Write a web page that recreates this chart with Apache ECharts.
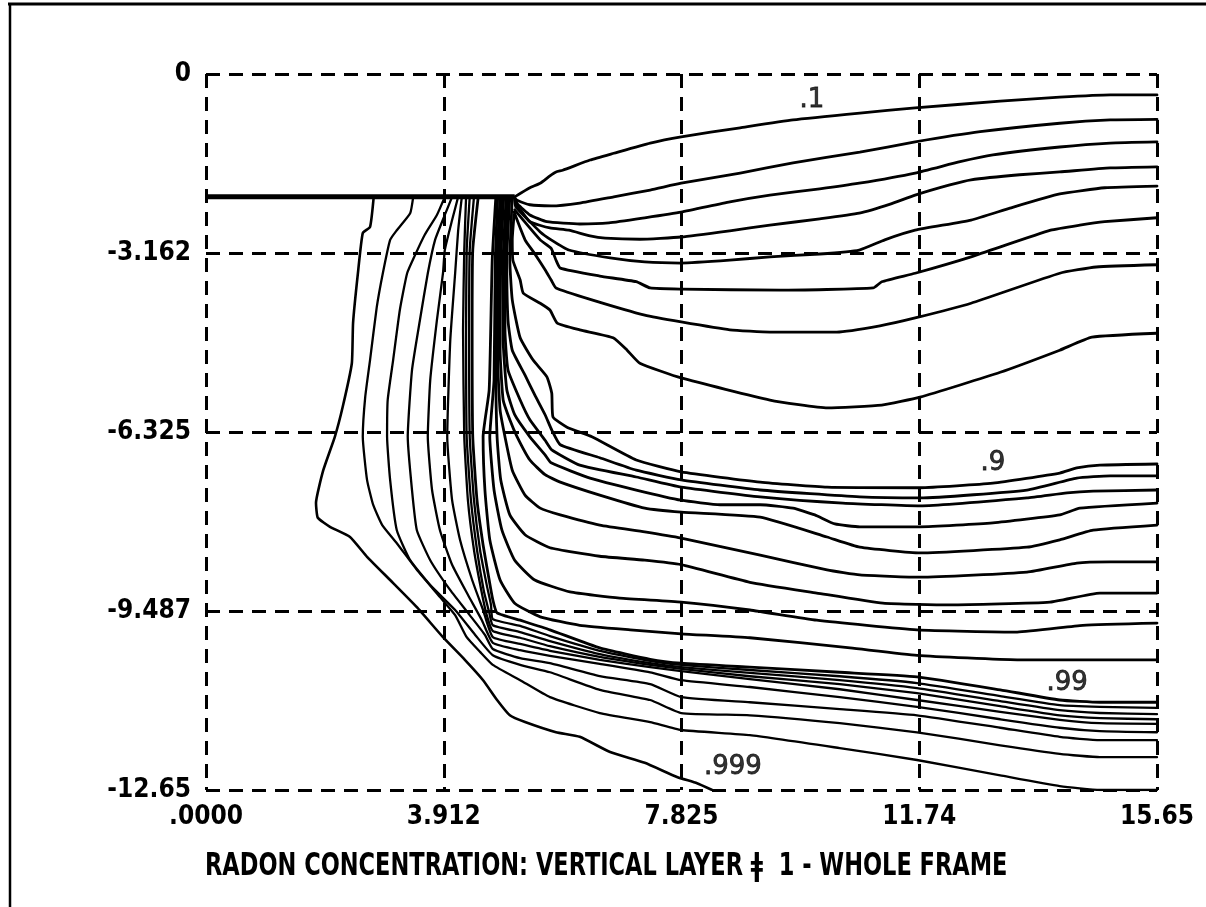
<!DOCTYPE html>
<html>
<head>
<meta charset="utf-8">
<title>Radon concentration - vertical layer 1</title>
<script src="https://cdn.jsdelivr.net/npm/echarts@6/dist/echarts.min.js"></script>
<style>
html,body{margin:0;padding:0;background:#fff;}
#chart{width:1206px;height:907px;}
</style>
</head>
<body>
<div id="chart"></div>
<script>
// Axis extents (model frame, metres) and printed tick labels
const xMin = 0, xMax = 15.65, xStep = 3.9125;
const yMin = -12.65, yMax = 0, yStep = 3.1625;
const xTickLabels = ['.0000', '3.912', '7.825', '11.74', '15.65'];
const yTickLabels = ['-12.65', '-9.487', '-6.325', '-3.162', '0'];

const titleText = 'RADON CONCENTRATION: VERTICAL LAYER \u01C2  1 - WHOLE FRAME';

// Floor slab / ground surface under the building
const groundLine = [[0, -2.17], [5.08, -2.17]];

// Concentration isolines, [x, depth] pairs
const c_1 = [[5.08,-2.17],[5.33,-2.01],[5.50,-1.93],[5.66,-1.80],[5.76,-1.73],[5.87,-1.70],[6.32,-1.52],[6.71,-1.40],[7.31,-1.22],[7.82,-1.11],[8.79,-0.95],[9.66,-0.81],[10.76,-0.69],[11.67,-0.60],[13.07,-0.48],[14.05,-0.41],[14.88,-0.37],[15.65,-0.37]];
const c_2 = [[5.08,-2.19],[5.12,-2.23],[5.33,-2.31],[5.68,-2.33],[6.15,-2.28],[6.71,-2.17],[7.31,-2.05],[7.82,-1.93],[8.79,-1.75],[9.66,-1.57],[10.76,-1.38],[11.67,-1.20],[12.74,-1.02],[14.05,-0.87],[14.88,-0.81],[15.65,-0.80]];
const c_3 = [[5.08,-2.20],[5.13,-2.30],[5.33,-2.49],[5.61,-2.61],[6.15,-2.65],[6.63,-2.63],[7.22,-2.54],[7.82,-2.44],[8.62,-2.26],[9.28,-2.14],[10.10,-2.03],[10.75,-1.93],[11.67,-1.75],[12.41,-1.55],[12.95,-1.43],[14.05,-1.29],[14.88,-1.22],[15.65,-1.20]];
const c_4 = [[5.08,-2.22],[5.13,-2.33],[5.33,-2.61],[5.66,-2.72],[5.97,-2.76],[6.32,-2.86],[6.57,-2.90],[7.14,-2.92],[7.82,-2.88],[8.62,-2.77],[9.28,-2.67],[10.10,-2.56],[10.75,-2.46],[11.26,-2.30],[11.67,-2.14],[12.24,-1.96],[12.59,-1.87],[13.39,-1.78],[14.05,-1.73],[14.88,-1.66],[15.65,-1.64]];
const c_5 = [[5.08,-2.24],[5.10,-2.35],[5.50,-2.79],[5.68,-2.93],[5.97,-3.11],[6.65,-3.25],[7.22,-3.32],[7.82,-3.34],[8.62,-3.29],[9.28,-3.23],[10.10,-3.18],[10.75,-3.11],[11.17,-2.93],[11.67,-2.76],[12.59,-2.58],[13.23,-2.37],[14.05,-2.12],[14.79,-2.01],[15.65,-1.98]];
const c_6 = [[5.08,-2.40],[5.50,-2.93],[5.68,-3.08],[5.76,-3.29],[5.83,-3.43],[6.48,-3.57],[7.08,-3.67],[7.31,-3.78],[7.82,-3.80],[9.45,-3.82],[10.98,-3.78],[11.12,-3.67],[11.67,-3.52],[12.59,-3.23],[13.90,-2.76],[14.38,-2.67],[14.79,-2.61],[15.65,-2.54]];
const c_7 = [[5.07,-2.44],[5.25,-2.93],[5.40,-3.16],[5.58,-3.46],[5.68,-3.64],[5.76,-3.78],[6.35,-3.99],[7.22,-4.26],[7.82,-4.38],[8.62,-4.52],[9.28,-4.56],[10.38,-4.56],[11.09,-4.45],[11.67,-4.31],[12.59,-4.05],[14.05,-3.52],[14.65,-3.41],[15.65,-3.37]];
const c_8 = [[5.07,-2.49],[5.04,-2.93],[5.05,-3.29],[5.17,-3.64],[5.22,-3.87],[5.50,-4.05],[5.66,-4.17],[5.78,-4.40],[6.15,-4.52],[6.70,-4.66],[6.93,-4.88],[7.14,-5.11],[7.82,-5.37],[9.28,-5.76],[10.23,-5.90],[11.12,-5.85],[11.75,-5.71],[13.07,-5.27],[14.05,-4.88],[14.58,-4.65],[15.65,-4.58]];
const c_9 = [[5.04,-2.17],[5.00,-3.29],[5.04,-3.99],[5.17,-4.66],[5.38,-5.05],[5.61,-5.35],[5.69,-5.64],[5.71,-6.06],[5.94,-6.24],[6.35,-6.41],[7.08,-6.82],[7.82,-7.03],[9.12,-7.21],[10.22,-7.30],[11.75,-7.31],[12.95,-7.23],[14.05,-7.05],[14.33,-6.96],[14.71,-6.91],[15.65,-6.89]];
const c_91 = [[5.00,-2.17],[4.95,-3.29],[4.97,-4.35],[5.04,-4.88],[5.25,-5.32],[5.41,-5.67],[5.58,-6.02],[5.69,-6.29],[5.83,-6.55],[6.48,-6.78],[7.08,-7.00],[7.82,-7.17],[9.12,-7.35],[10.76,-7.47],[11.75,-7.49],[13.51,-7.35],[14.33,-7.14],[14.88,-7.10],[15.65,-7.10]];
const c_92 = [[4.97,-2.17],[4.92,-3.29],[4.92,-4.52],[4.97,-5.23],[5.17,-5.76],[5.33,-6.11],[5.58,-6.47],[5.69,-6.64],[6.15,-6.91],[7.08,-7.12],[7.82,-7.30],[9.12,-7.47],[10.48,-7.58],[11.75,-7.63],[13.51,-7.49],[14.17,-7.40],[14.60,-7.37],[15.65,-7.35]];
const c_93 = [[4.94,-2.17],[4.89,-3.29],[4.89,-4.70],[4.95,-5.58],[5.08,-6.02],[5.33,-6.41],[5.58,-6.73],[5.68,-6.87],[6.32,-7.14],[7.08,-7.35],[7.82,-7.53],[8.46,-7.61],[9.12,-7.61],[9.66,-7.67],[10.02,-7.79],[10.35,-7.95],[10.76,-8.00],[11.75,-8.00],[12.95,-7.93],[14.05,-7.79],[14.38,-7.67],[15.65,-7.58]];
const c_94 = [[4.90,-2.17],[4.85,-3.29],[4.84,-4.88],[4.89,-5.76],[5.00,-6.11],[5.12,-6.41],[5.33,-6.82],[5.58,-7.08],[5.83,-7.21],[6.48,-7.44],[7.22,-7.67],[7.82,-7.74],[9.12,-7.83],[10.22,-8.18],[10.76,-8.36],[11.75,-8.46],[13.51,-8.36],[14.05,-8.23],[14.60,-8.06],[15.65,-7.97]];
const c_95 = [[4.87,-2.17],[4.82,-3.29],[4.80,-5.05],[4.84,-5.94],[4.92,-6.41],[5.04,-7.00],[5.25,-7.44],[5.50,-7.67],[5.83,-7.79],[6.48,-7.97],[7.22,-8.09],[7.82,-8.20],[9.12,-8.50],[10.22,-8.76],[10.76,-8.85],[11.75,-8.89],[13.51,-8.80],[14.33,-8.64],[14.88,-8.62],[15.65,-8.62]];
const c_96 = [[4.84,-2.17],[4.79,-3.29],[4.77,-5.23],[4.79,-6.41],[4.85,-7.17],[5.00,-7.79],[5.25,-8.14],[5.66,-8.37],[6.48,-8.52],[7.22,-8.59],[7.82,-8.67],[8.95,-8.98],[10.05,-9.17],[11.14,-9.35],[12.24,-9.38],[13.89,-9.33],[14.71,-9.17],[15.65,-9.17]];
const c_97 = [[4.80,-2.17],[4.76,-3.29],[4.74,-5.41],[4.67,-6.41],[4.74,-7.35],[4.87,-8.06],[5.08,-8.59],[5.41,-8.94],[5.99,-9.15],[6.81,-9.26],[7.82,-9.33],[8.95,-9.47],[10.05,-9.65],[11.70,-9.82],[13.35,-9.86],[14.43,-9.74],[15.65,-9.70]];
const c_98 = [[4.77,-2.17],[4.71,-3.29],[4.66,-5.58],[4.56,-6.41],[4.59,-7.35],[4.67,-8.23],[4.84,-8.94],[5.08,-9.35],[5.50,-9.59],[6.15,-9.74],[6.98,-9.82],[7.82,-9.89],[8.95,-9.96],[10.60,-10.14],[11.70,-10.27],[13.35,-10.35],[15.65,-10.35]];
const c_99 = [[4.48,-2.17],[4.39,-3.11],[4.38,-4.52],[4.39,-6.41],[4.46,-7.53],[4.56,-8.32],[4.66,-8.94],[4.72,-9.29],[4.79,-9.52],[5.17,-9.65],[5.66,-9.82],[6.48,-10.14],[7.31,-10.34],[7.82,-10.41],[8.95,-10.48],[10.43,-10.57],[11.70,-10.65],[13.07,-10.88],[14.05,-11.06],[14.71,-11.10],[15.65,-11.10]];
const c_991 = [[4.41,-2.17],[4.34,-3.11],[4.33,-4.52],[4.34,-6.41],[4.41,-7.53],[4.51,-8.41],[4.62,-9.03],[4.69,-9.38],[4.72,-9.63],[5.17,-9.75],[5.66,-9.93],[6.48,-10.19],[7.31,-10.37],[7.82,-10.44],[8.95,-10.53],[10.43,-10.64],[11.70,-10.76],[13.07,-10.99],[14.05,-11.15],[14.71,-11.18],[15.65,-11.20]];
const c_992 = [[4.34,-2.17],[4.29,-3.11],[4.28,-4.52],[4.29,-6.41],[4.36,-7.53],[4.46,-8.41],[4.57,-9.12],[4.66,-9.51],[4.72,-9.74],[5.17,-9.86],[5.66,-10.02],[6.48,-10.25],[7.31,-10.41],[7.82,-10.48],[8.95,-10.58],[10.43,-10.71],[11.70,-10.85],[13.07,-11.08],[14.05,-11.24],[14.71,-11.29],[15.65,-11.31]];
const c_993 = [[4.28,-2.17],[4.25,-3.11],[4.23,-4.52],[4.25,-6.41],[4.31,-7.53],[4.41,-8.41],[4.53,-9.12],[4.62,-9.56],[4.72,-9.84],[5.17,-9.96],[5.66,-10.11],[6.48,-10.30],[7.31,-10.44],[7.82,-10.51],[8.95,-10.64],[10.43,-10.78],[11.70,-10.94],[13.07,-11.17],[14.05,-11.33],[14.71,-11.38],[15.65,-11.40]];
const c_994 = [[4.21,-2.17],[4.15,-2.76],[4.10,-3.52],[4.02,-4.70],[3.97,-6.41],[4.05,-7.53],[4.18,-8.23],[4.38,-8.94],[4.56,-9.47],[4.72,-9.95],[5.17,-10.07],[5.66,-10.19],[6.48,-10.35],[7.31,-10.48],[7.82,-10.55],[8.95,-10.69],[10.43,-10.87],[11.70,-11.06],[13.07,-11.27],[14.05,-11.41],[14.71,-11.47],[15.65,-11.48]];
const c_995 = [[4.15,-2.17],[4.05,-2.58],[3.93,-3.11],[3.90,-3.52],[3.80,-4.35],[3.69,-5.41],[3.65,-6.41],[3.72,-7.35],[3.85,-8.06],[4.05,-8.67],[4.31,-9.20],[4.54,-9.65],[4.72,-10.05],[5.17,-10.18],[5.66,-10.28],[6.48,-10.42],[7.31,-10.57],[7.82,-10.71],[8.95,-10.83],[10.43,-11.01],[11.70,-11.18],[13.07,-11.40],[14.05,-11.55],[14.71,-11.61],[15.65,-11.63]];
const c_996 = [[4.05,-2.17],[3.93,-2.49],[3.77,-2.93],[3.65,-3.52],[3.52,-4.35],[3.39,-5.23],[3.32,-6.41],[3.39,-7.35],[3.47,-8.06],[3.69,-8.59],[4.02,-9.12],[4.34,-9.56],[4.59,-9.91],[4.72,-10.16],[5.17,-10.32],[5.66,-10.41],[6.48,-10.64],[7.31,-10.78],[7.82,-11.01],[8.95,-11.10],[10.43,-11.22],[11.70,-11.33],[13.07,-11.55],[14.05,-11.71],[14.71,-11.77],[15.65,-11.77]];
const c_997 = [[3.93,-2.17],[3.80,-2.49],[3.60,-2.84],[3.44,-3.20],[3.31,-3.52],[3.19,-4.17],[3.08,-5.05],[2.99,-5.76],[2.98,-6.41],[3.03,-7.17],[3.14,-8.06],[3.36,-8.59],[3.69,-9.03],[4.10,-9.47],[4.43,-9.91],[4.72,-10.27],[5.17,-10.44],[5.66,-10.57],[6.48,-10.88],[7.31,-11.06],[7.82,-11.29],[8.95,-11.33],[10.43,-11.47],[11.70,-11.63],[13.07,-11.86],[14.05,-12.01],[14.71,-12.07],[15.65,-12.07]];
const c_998 = [[3.41,-2.17],[3.36,-2.46],[3.14,-2.76],[3.03,-2.93],[2.91,-3.52],[2.81,-4.12],[2.70,-5.05],[2.62,-5.71],[2.58,-6.41],[2.65,-7.17],[2.75,-7.61],[2.90,-7.97],[3.14,-8.29],[3.47,-8.76],[3.85,-9.24],[4.10,-9.56],[4.29,-9.95],[4.51,-10.21],[4.72,-10.44],[5.17,-10.71],[5.66,-11.01],[6.48,-11.29],[7.31,-11.45],[7.82,-11.59],[8.95,-11.68],[10.43,-11.91],[11.70,-12.12],[13.07,-12.39],[14.05,-12.58],[14.71,-12.65],[15.65,-12.65]];
const c_999 = [[2.76,-2.17],[2.70,-2.70],[2.58,-2.81],[2.50,-3.52],[2.42,-4.40],[2.40,-5.11],[2.25,-5.88],[2.12,-6.41],[1.93,-7.00],[1.81,-7.58],[1.84,-7.84],[2.04,-8.00],[2.37,-8.18],[2.65,-8.53],[3.03,-8.94],[3.47,-9.42],[3.90,-9.95],[4.26,-10.35],[4.56,-10.71],[4.79,-11.06],[5.00,-11.33],[5.25,-11.45],[5.76,-11.63],[6.15,-11.71],[6.65,-11.98],[7.22,-12.17],[7.75,-12.42],[8.08,-12.53],[8.33,-12.65]];

const levelNames = ['.1','.2','.3','.4','.5','.6','.7','.8','.9','.91','.92','.93','.94','.95','.96','.97','.98','.99','.991','.992','.993','.994','.995','.996','.997','.998','.999'];
const levelLines = [c_1,c_2,c_3,c_4,c_5,c_6,c_7,c_8,c_9,c_91,c_92,c_93,c_94,c_95,c_96,c_97,c_98,c_99,c_991,c_992,c_993,c_994,c_995,c_996,c_997,c_998,c_999];

// Inline isoline labels
const labelText = ['.1', '.9', '.99', '.999'];
const labelX = [9.97, 12.95, 14.17, 8.67];
const labelY = [-0.46, -6.87, -10.76, -12.24];

const chart = echarts.init(document.getElementById('chart'), null, { renderer: 'canvas' });

const tickFont = {
  color: '#000',
  fontFamily: '"DejaVu Sans Condensed", "DejaVu Sans", sans-serif',
  fontWeight: 'bold',
  fontSize: 26
};
const gridDash = { color: '#000', width: 3, type: [14, 9] };

// finer pen for the dense deep bundle, heavier pen elsewhere
function penWidth(name) {
  if (name === '.999') return 2.6;
  return name.length === 4 ? 2.3 : 2.8;
}

const series = levelLines.map((pts, i) => ({
  name: levelNames[i],
  type: 'line',
  data: pts,
  showSymbol: false,
  symbol: 'none',
  smooth: 0.15,
  silent: true,
  z: 3,
  lineStyle: { color: '#000', width: penWidth(levelNames[i]), join: 'round', cap: 'round' }
}));

series.push({
  name: 'ground',
  type: 'line',
  data: groundLine,
  showSymbol: false,
  symbol: 'none',
  silent: true,
  z: 4,
  lineStyle: { color: '#000', width: 5 }
});

series.push({
  name: 'labels',
  type: 'scatter',
  data: labelX.map((x, i) => [x, labelY[i], labelText[i]]),
  symbolSize: 0,
  silent: true,
  z: 6,
  label: {
    show: true,
    position: 'inside',
    formatter: p => p.value[2],
    color: '#000',
    textBorderColor: '#000',
    textBorderWidth: 0.8,
    fontFamily: '"DejaVu Sans", sans-serif',
    fontSize: 26
  }
});

chart.setOption({
  animation: false,
  backgroundColor: '#fff',
  grid: { left: 206, right: 49, top: 74, bottom: 117, containLabel: false },
  xAxis: {
    type: 'value', min: xMin, max: xMax, interval: xStep,
    axisLine: { show: false }, axisTick: { show: false },
    splitLine: { show: true, showMinLine: true, showMaxLine: true, lineStyle: gridDash },
    axisLabel: Object.assign({
      margin: 14,
      formatter: v => xTickLabels[Math.round((v - xMin) / xStep)]
    }, tickFont)
  },
  yAxis: {
    type: 'value', min: yMin, max: yMax, interval: yStep,
    axisLine: { show: false }, axisTick: { show: false },
    splitLine: { show: true, showMinLine: true, showMaxLine: true, lineStyle: gridDash },
    axisLabel: Object.assign({
      margin: 15,
      formatter: v => yTickLabels[Math.round((v - yMin) / yStep)]
    }, tickFont)
  },
  graphic: [
    { type: 'line', silent: true, shape: { x1: 8, y1: 4, x2: 1206, y2: 4 }, style: { stroke: '#000', lineWidth: 3 } },
    { type: 'line', silent: true, shape: { x1: 10, y1: 4, x2: 10, y2: 907 }, style: { stroke: '#000', lineWidth: 2.5 } },
    {
      type: 'text', silent: true, x: 205, y: 867, scaleY: 1.25,
      style: {
        text: titleText,
        fill: '#000',
        font: 'bold 25px "DejaVu Sans Condensed", "DejaVu Sans", sans-serif',
        align: 'left',
        verticalAlign: 'middle'
      }
    }
  ],
  series: series
});
</script>
</body>
</html>
